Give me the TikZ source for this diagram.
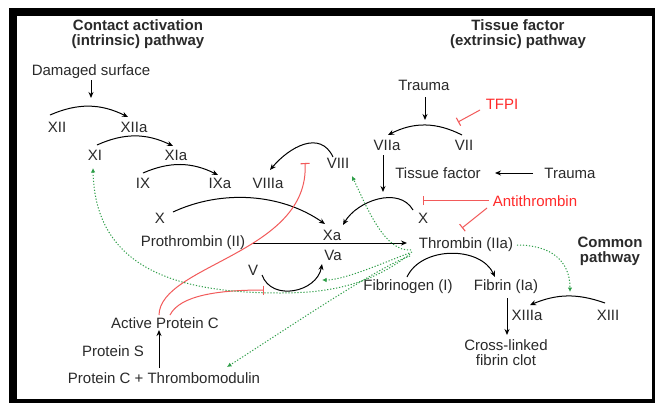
\documentclass[tikz,border=0pt]{standalone}
\usepackage{fontspec}
\setmainfont{Liberation Sans}
\usetikzlibrary{arrows.meta,calc}
\definecolor{inhred}{HTML}{F25A5A}
\definecolor{inhtext}{HTML}{FF2A2A}
\definecolor{actgreen}{HTML}{2E9E48}
\definecolor{txt}{HTML}{2A2A2A}
\begin{document}
\begin{tikzpicture}[x=1pt,y=1pt,
  lbl/.style={inner sep=0pt,font=\fontsize{15}{15}\selectfont,text=txt},
  hdr/.style={inner sep=0pt,font=\fontsize{15}{15}\selectfont\bfseries,text=txt,align=center},
  redlbl/.style={lbl,text=inhtext},
  arr/.style={line width=1pt,-{Stealth[length=6pt,width=5pt]}},
  inhib/.style={draw=inhred,line width=1pt,-{Bar[width=9pt,line width=1.1pt]}},
  actv/.style={draw=actgreen,line width=1pt,dash pattern=on 1.2pt off 1.8pt,-{Latex[length=4.5pt,width=4.5pt]}}]
\useasboundingbox (0,0) rectangle (656,-405);
\fill[black] (9,-8) rectangle (655,-403);
\fill[white] (17,-16) rectangle (652,-399);

% headers
\node[hdr] (hcont) at (138,-34) {Contact activation\\(intrinsic) pathway};
\node[hdr] (htis) at (518,-34) {Tissue factor\\(extrinsic) pathway};
\node[hdr] (hcom) at (610,-251) {Common\\pathway};

% labels
\node[lbl] (dmg) at (91,-72) {Damaged surface};
\node[lbl] (XII) at (57,-127) {XII};
\node[lbl] (XIIa) at (134,-127) {XIIa};
\node[lbl] (XI) at (95,-155) {XI};
\node[lbl] (XIa) at (176,-155) {XIa};
\node[lbl] (IX) at (143,-183) {IX};
\node[lbl] (IXa) at (220,-183) {IXa};
\node[lbl] (VIIIa) at (268,-183) {VIIIa};
\node[lbl] (VIII) at (338,-163) {VIII};
\node[lbl] (Xl) at (160,-218) {X};
\node[lbl] (Xa) at (332,-235) {Xa};
\node[lbl] (Va) at (333,-255) {Va};
\node[lbl] (V) at (253,-270) {V};
\node[lbl] (proth) at (193,-243) {Prothrombin (II)};
\node[lbl] (thromb) at (466,-245) {Thrombin (IIa)};
\node[lbl] (trauma1) at (424,-85) {Trauma};
\node[redlbl] (tfpi) at (502,-104) {TFPI};
\node[lbl] (VIIa) at (387,-145) {VIIa};
\node[lbl] (VII) at (464,-145) {VII};
\node[lbl] (tf) at (438,-173) {Tissue factor};
\node[lbl] (trauma2) at (570,-173) {Trauma};
\node[redlbl] (anti) at (535,-201) {Antithrombin};
\node[lbl] (Xr) at (423,-218) {X};
\node[lbl] (fbg) at (408,-287) {Fibrinogen (I)};
\node[lbl] (fbn) at (506,-287) {Fibrin (Ia)};
\node[lbl] (XIIIa) at (527,-315) {XIIIa};
\node[lbl] (XIII) at (608,-315) {XIII};
\node[lbl,align=center] (clot) at (506,-353) {Cross-linked\\fibrin clot};
\node[lbl] (apc) at (165,-323) {Active Protein C};
\node[lbl] (prots) at (113,-351) {Protein S};
\node[lbl] (pct) at (164,-378) {Protein C + Thrombomodulin};

% conversion arcs
\draw[arr] ($(XII)+(-7,12)$) to[bend left=25] ($(XIIa)+(-6,10)$);
\draw[arr] ($(XI)+(2,10)$) to[bend left=25] ($(XIa)+(-3,9)$);
\draw[arr] ($(IX)+(0,10)$) to[bend left=25] ($(IXa)+(-2,8)$);
\draw[arr] ($(VIII)+(-5,6)$) to[out=115,in=50,looseness=1.2] ($(VIIIa)+(2,13)$);
\draw[arr] ($(Xl)+(13,6)$) to[out=25,in=145,looseness=0.9] ($(Xa)+(-7,11)$);
\draw[arr] ($(Xr)+(-10,8)$) to[out=120,in=60] ($(Xa)+(11,10)$);
\draw[arr] ($(VII)+(-2,10)$) to[bend right=27] ($(VIIa)+(1,10)$);
\draw[arr] ($(V)+(9,-5)$) to[out=-70,in=-100,looseness=1.2] ($(Va)+(-11,-9)$);
\draw[arr] ($(fbg)+(-1,10)$) to[out=65,in=115] ($(fbn)+(-11,10)$);
\draw[arr] ($(XIII)+(-3,12)$) to[bend right=21] ($(XIIIa)+(3,10)$);

% straight arrows
\draw[arr] ($(dmg)+(0,-8)$) -- ($(dmg)+(0,-26)$);
\draw[arr] ($(trauma1)+(1,-12)$) -- ($(trauma1)+(1,-35)$);
\draw[arr] ($(VIIa)+(-4,-10)$) -- ($(VIIa)+(-4,-47)$);
\draw[arr] ($(trauma2)+(-37,0)$) -- ($(tf)+(57,0)$);
\draw[arr] ($(proth)+(60,0)$) -- ($(thromb)+(-59,2)$);
\draw[arr] ($(fbn)+(1,-11)$) -- ($(clot)+(1,18)$);
\draw[arr] ($(pct)+(-5,10)$) -- ($(apc)+(-6,-7)$);

% inhibitions
\draw[inhib] ($(tfpi)+(-22,-6)$) -- ($(VII)+(-6,23)$);
\draw[inhib] ($(anti.west)+(-4,0.5)$) -- ($(Xr)+(0,17.5)$);
\draw[inhib] ($(anti)+(-48,-7)$) -- ($(thromb)+(-4,17)$);
\draw[inhib] ($(apc)+(-6,8)$) .. controls +(1,50) and +(5,-90) .. ($(VIII)+(-33,0)$);
\draw[inhib] ($(apc)+(5,8)$) .. controls +(10,20) and +(-44,0) .. ($(V)+(11,-20)$);

% thrombin feedback
\coordinate (gbend) at (280,-293);
\draw[actv] ($(thromb)+(-55,-5)$) .. controls +(-26,-2) and +(16,-34) .. ($(VIII)+(14,-13)$);
\draw[actv] ($(thromb)+(-54,-7)$) .. controls +(-27,-10) and +(23,0) .. ($(Va)+(-11,-25)$);
\draw[actv] ($(thromb)+(-56,-9)$) .. controls +(-40,-31) and +(50,0) .. (gbend) .. controls +(-100,0) and +(2,-102) .. ($(XI)+(-2,-13)$);
\draw[actv] ($(thromb)+(-56,-11)$) .. controls +(-30,-10) and +(70,45) .. ($(pct)+(63,11)$);
\draw[actv] ($(thromb)+(51,0)$) .. controls +(33,0) and +(0,32) .. ($(XIIIa)+(43,23)$);
\end{tikzpicture}
\end{document}
